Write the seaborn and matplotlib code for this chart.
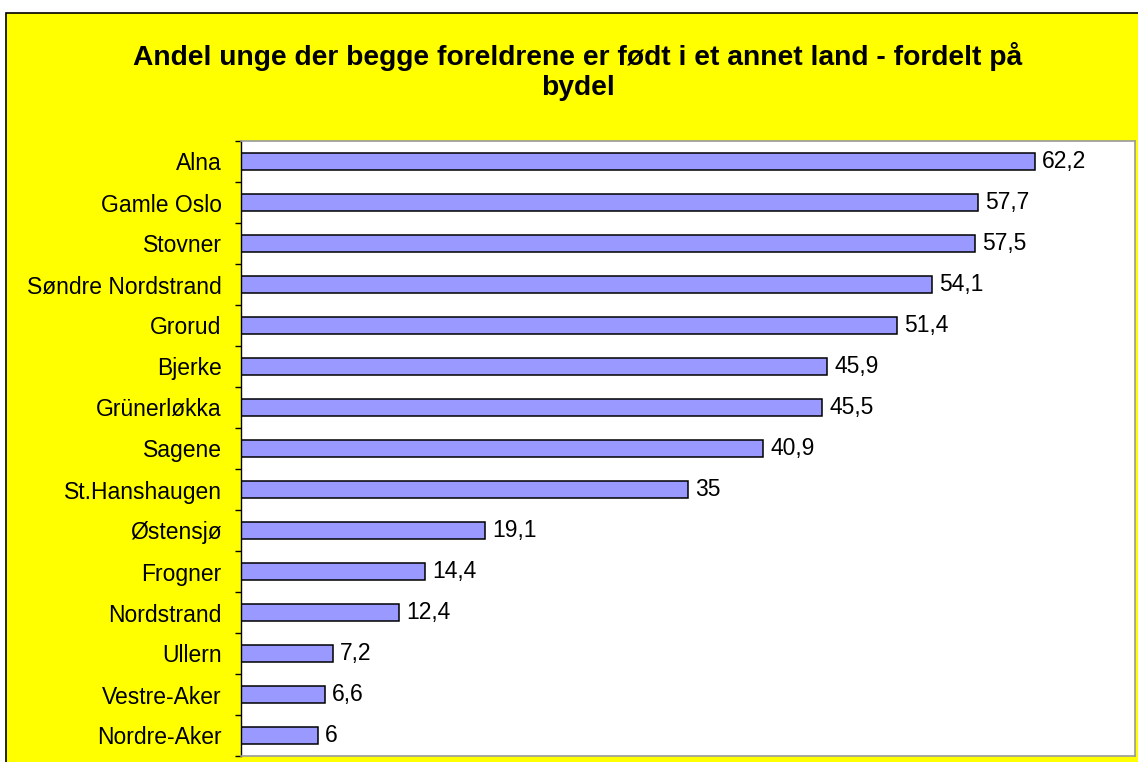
import matplotlib
matplotlib.use("Agg")
import matplotlib.pyplot as plt
import seaborn as sns
from matplotlib.patches import Rectangle

# Data
bydeler = ["Alna", "Gamle Oslo", "Stovner", "Søndre Nordstrand", "Grorud",
           "Bjerke", "Grünerløkka", "Sagene", "St.Hanshaugen", "Østensjø",
           "Frogner", "Nordstrand", "Ullern", "Vestre-Aker", "Nordre-Aker"]
andel = [62.2, 57.7, 57.5, 54.1, 51.4, 45.9, 45.5, 40.9, 35, 19.1,
         14.4, 12.4, 7.2, 6.6, 6]
title = "Andel unge der begge foreldrene er født i et annet land - fordelt på\nbydel"

sns.set_style("white")
plt.rcParams['font.family'] = ['Liberation Sans', 'DejaVu Sans']
plt.rcParams['text.color'] = 'black'
plt.rcParams['ytick.color'] = 'black'
plt.rcParams['ytick.labelcolor'] = 'black'

fig = plt.figure(figsize=(11.38, 7.62), dpi=100)
fig.patch.set_facecolor("white")
# yellow chart area with black border
fig.patches.append(Rectangle((6 / 1138, -0.01), 1.01, (762 - 13) / 762 + 0.01,
                             transform=fig.transFigure, facecolor="#FFFF00",
                             edgecolor="black", linewidth=1.2, zorder=-10))

ax = fig.add_axes([241 / 1138, 6 / 762, (1135 - 241) / 1138, (756 - 141) / 762])
ax.set_facecolor("white")
ax.set_zorder(5)

sns.barplot(x=andel, y=bydeler, orient="h", color="#9999FF", saturation=1,
            edgecolor="black", linewidth=1.1, width=0.42, ax=ax)

labels = [f"{v:g}".replace(".", ",") for v in andel]
ax.bar_label(ax.containers[0], labels=labels, padding=5, fontsize=16.5, color="black")

ax.set_xlim(0, 70)
ax.set_ylim(len(bydeler) - 0.5, -0.5)
ax.set_xticks([])
ax.set_xlabel("")
ax.set_ylabel("")
ax.tick_params(axis="y", which="major", left=False, length=0, labelsize=16.5, pad=14)
ax.set_yticks([i + 0.5 for i in range(-1, len(bydeler))], minor=True)
ax.tick_params(axis="y", which="minor", left=True, length=4, width=1,
               color="black", direction="out")

for side in ["top", "right", "bottom"]:
    ax.spines[side].set_color("#999999")
    ax.spines[side].set_linewidth(1.2)
ax.spines["left"].set_color("black")
ax.spines["left"].set_linewidth(1.0)

fig.text(0.508, 1 - 42 / 762, title, ha="center", va="top", fontsize=20.3,
         fontweight="bold", linespacing=1.2)

fig.savefig("out.png", dpi=100)
